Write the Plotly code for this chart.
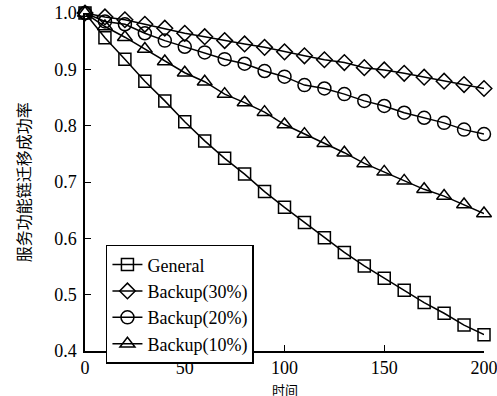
import plotly.graph_objects as go

x = list(range(0, 201, 10))
general = [1.0, 0.956, 0.918, 0.879, 0.844, 0.807, 0.773, 0.742, 0.714, 0.683, 0.655,
           0.628, 0.601, 0.575, 0.551, 0.529, 0.508, 0.486, 0.467, 0.446, 0.429]
backup30 = [1.0, 0.993, 0.988, 0.980, 0.973, 0.964, 0.958, 0.951, 0.945, 0.939, 0.931,
            0.924, 0.917, 0.912, 0.903, 0.899, 0.893, 0.886, 0.879, 0.873, 0.866]
backup20 = [1.0, 0.985, 0.980, 0.964, 0.951, 0.940, 0.930, 0.918, 0.910, 0.897, 0.887,
            0.872, 0.866, 0.856, 0.844, 0.835, 0.823, 0.814, 0.805, 0.793, 0.785]
backup10 = [1.0, 0.976, 0.957, 0.936, 0.914, 0.894, 0.878, 0.856, 0.841, 0.824, 0.802,
            0.785, 0.769, 0.752, 0.733, 0.718, 0.702, 0.687, 0.675, 0.660, 0.644]

names = ["General", "Backup(30%)", "Backup(20%)", "Backup(10%)"]
series = [general, backup30, backup20, backup10]
symbols = ["square-open", "diamond-open", "circle-open", "triangle-up-open"]
sizes = [12, 12, 13, 13]

fig = go.Figure()
for n, s, sym, sz in zip(names, series, symbols, sizes):
    fig.add_trace(go.Scatter(
        x=x, y=s, name=n, mode="lines+markers",
        line=dict(color="black", width=1.5),
        marker=dict(symbol=sym, size=sz, color="black", line=dict(color="black", width=1.5)),
        cliponaxis=False,
    ))

font = "Liberation Serif"
cjk = "Noto Sans CJK SC"
fig.update_layout(
    width=497, height=396,
    margin=dict(l=85, r=13, t=13, b=45),
    plot_bgcolor="white", paper_bgcolor="white",
    font=dict(family=font, size=18, color="black"),
    showlegend=True,
    legend=dict(x=0.0525, y=0.314, xanchor="left", yanchor="top",
                bordercolor="black", borderwidth=1.5, bgcolor="white",
                font=dict(family=font, size=18), tracegroupgap=0,
                itemwidth=30),
    xaxis=dict(range=[0, 200], tickvals=[0, 50, 100, 150, 200],
               ticks="inside", ticklen=6, tickwidth=1.2, tickcolor="black",
               showline=True, linecolor="black", linewidth=1.5,
               showgrid=False, zeroline=False, automargin=False,
               ticklabeloverflow="allow",
               tickfont=dict(family=font, size=18)),
    yaxis=dict(range=[0.4, 1.0], tickvals=[0.4, 0.5, 0.6, 0.7, 0.8, 0.9, 1.0],
               ticktext=["0.4", "0.5", "0.6", "0.7", "0.8", "0.9", "1.0"],
               ticks="inside", ticklen=6, tickwidth=1.2, tickcolor="black",
               showline=True, linecolor="black", linewidth=1.5,
               showgrid=False, zeroline=False, automargin=False,
               ticklabelstandoff=3, ticklabeloverflow="allow",
               tickfont=dict(family=font, size=18)),
    annotations=[
        dict(text="时间", xref="paper", yref="paper", x=0.5, y=-0.084,
             xanchor="center", yanchor="top", showarrow=False, borderpad=0,
             font=dict(family=cjk, size=13, color="black")),
        dict(text="服务功能链迁移成功率", xref="paper", yref="paper", x=-0.155, y=0.5,
             xanchor="center", yanchor="middle", showarrow=False, textangle=-90,
             font=dict(family=cjk, size=16, color="black")),
    ],
)

fig.write_html("out.html", config={"displayModeBar": False},
               post_script="document.body.style.margin='0';document.body.style.overflow='hidden';")
